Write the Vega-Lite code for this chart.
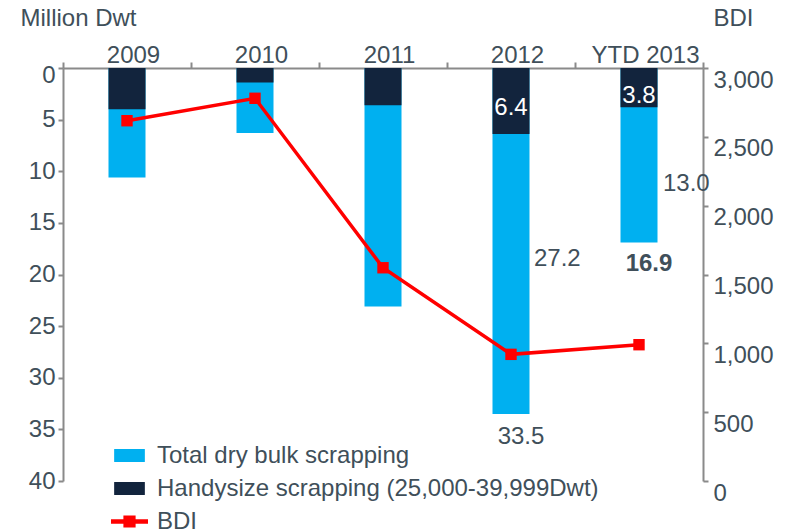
{
  "$schema": "https://vega.github.io/schema/vega-lite/v6.json",
  "width": 640,
  "height": 413,
  "autosize": {"type": "none"},
  "padding": {"left": 63, "top": 68, "right": 87, "bottom": 51},
  "background": "white",
  "config": {"view": {"stroke": null}, "font": "Liberation Sans"},
  "data": {
    "values": [
      {"year": "2009", "total": 10.6, "handysize": 4.0, "other": null, "bdi": 2617},
      {"year": "2010", "total": 6.3, "handysize": 1.4, "other": null, "bdi": 2780},
      {"year": "2011", "total": 23.1, "handysize": 3.6, "other": null, "bdi": 1549},
      {"year": "2012", "total": 33.5, "handysize": 6.4, "other": 27.2, "bdi": 920},
      {"year": "YTD 2013", "total": 16.9, "handysize": 3.8, "other": 13.0, "bdi": 990}
    ]
  },
  "encoding": {
    "x": {
      "field": "year",
      "type": "nominal",
      "sort": null,
      "scale": {"paddingInner": 0, "paddingOuter": 0},
      "axis": {
        "orient": "top",
        "title": null,
        "labelAngle": 0,
        "labelFontSize": 24,
        "labelColor": "#404f5a",
        "labelBaseline": "alphabetic",
        "labelPadding": 0,
        "labelOffset": 6,
        "domainColor": "#8a8a8a",
        "domainWidth": 2,
        "tickColor": "#8a8a8a",
        "tickWidth": 2,
        "tickSize": 6,
        "tickBand": "extent"
      }
    }
  },
  "layer": [
    {
      "layer": [
        {
          "mark": {"type": "bar", "width": 37, "color": "#00b0f0"},
          "encoding": {
            "y": {
              "field": "total",
              "type": "quantitative",
              "scale": {"domain": [0, 40], "reverse": true, "nice": false},
              "axis": {
                "orient": "left",
                "values": [0, 5, 10, 15, 20, 25, 30, 35, 40],
                "grid": false,
                "title": "Million Dwt",
                "titleAngle": 0,
                "titleAlign": "left",
                "titleBaseline": "alphabetic",
                "titleX": -43,
                "titleY": -43,
                "titleFontSize": 24,
                "titleFontWeight": "normal",
                "titleColor": "#404f5a",
                "labelFontSize": 24,
                "labelColor": "#404f5a",
                "labelPadding": 3,
                "labelOffset": {"condition": {"test": "datum.value === 0", "value": 7}, "value": 0},
                "domainColor": "#8a8a8a",
                "domainWidth": 2,
                "tickColor": "#8a8a8a",
                "tickWidth": 2,
                "tickSize": 5
              }
            },
            "color": {
              "datum": "Total dry bulk scrapping",
              "type": "nominal",
              "scale": {
                "domain": ["Total dry bulk scrapping", "Handysize scrapping (25,000-39,999Dwt)", "BDI"],
                "range": ["#00b0f0", "#12243d", "#ff0000"]
              },
              "legend": {
                "orient": "none",
                "legendX": 48,
                "legendY": 369,
                "title": null,
                "labelFontSize": 24,
                "labelColor": "#404f5a",
                "labelLimit": 0,
                "labelOffset": 9,
                "rowPadding": 2,
                "symbolSize": 1369,
                "symbolStrokeWidth": 0,
                "symbolType": "square",
                "encode": {
                  "symbols": {
                    "update": {
                      "shape": {"signal": "datum.label === 'BDI' ? 'M-1,-0.12H-0.33V-0.33H0.33V-0.12H1V0.12H0.33V0.33H-0.33V0.12H-1Z' : 'M-0.83,-0.35H0.83V0.35H-0.83Z'"}
                    }
                  }
                }
              }
            }
          }
        },
        {
          "mark": {"type": "bar", "width": 37, "color": "#12243d"},
          "encoding": {
            "y": {"field": "handysize", "type": "quantitative"},
            "color": {"datum": "Handysize scrapping (25,000-39,999Dwt)", "type": "nominal"}
          }
        },
        {
          "transform": [{"filter": "datum.year === '2012'"}],
          "mark": {"type": "text", "color": "white", "fontSize": 24, "baseline": "middle", "dy": -26},
          "encoding": {
            "y": {"field": "handysize", "type": "quantitative"},
            "text": {"field": "handysize", "type": "quantitative", "format": ".1f"}
          }
        },
        {
          "transform": [{"filter": "datum.year === 'YTD 2013'"}],
          "mark": {"type": "text", "color": "white", "fontSize": 24, "baseline": "middle", "dy": -11},
          "encoding": {
            "y": {"field": "handysize", "type": "quantitative"},
            "text": {"field": "handysize", "type": "quantitative", "format": ".1f"}
          }
        },
        {
          "transform": [{"filter": "datum.year === '2012'"}],
          "mark": {"type": "text", "color": "#404f5a", "fontSize": 24, "baseline": "middle", "dy": 23, "dx": 10},
          "encoding": {
            "y": {"field": "total", "type": "quantitative"},
            "text": {"field": "total", "type": "quantitative", "format": ".1f"}
          }
        },
        {
          "transform": [{"filter": "datum.year === 'YTD 2013'"}],
          "mark": {"type": "text", "color": "#404f5a", "fontSize": 24, "fontWeight": "bold", "baseline": "middle", "dy": 22, "dx": 10},
          "encoding": {
            "y": {"field": "total", "type": "quantitative"},
            "text": {"field": "total", "type": "quantitative", "format": ".1f"}
          }
        },
        {
          "transform": [{"filter": "datum.year === '2012'"}],
          "mark": {"type": "text", "color": "#404f5a", "fontSize": 24, "baseline": "middle", "align": "left", "dy": -90, "dx": 23},
          "encoding": {
            "y": {"field": "other", "type": "quantitative"},
            "text": {"field": "other", "type": "quantitative", "format": ".1f"}
          }
        },
        {
          "transform": [{"filter": "datum.year === 'YTD 2013'"}],
          "mark": {"type": "text", "color": "#404f5a", "fontSize": 24, "baseline": "middle", "align": "left", "dy": -18, "dx": 24},
          "encoding": {
            "y": {"field": "other", "type": "quantitative"},
            "text": {"field": "other", "type": "quantitative", "format": ".1f"}
          }
        }
      ]
    },
    {
      "layer": [
        {
          "mark": {"type": "line", "color": "#ff0000", "strokeWidth": 3.5},
          "encoding": {
            "y": {
              "field": "bdi",
              "type": "quantitative",
              "scale": {"domain": [0, 3000], "nice": false},
              "axis": {
                "orient": "right",
                "values": [0, 500, 1000, 1500, 2000, 2500, 3000],
                "format": ",.0f",
                "grid": false,
                "title": "BDI",
                "titleAngle": 0,
                "titleAlign": "left",
                "titleBaseline": "alphabetic",
                "titleX": 10,
                "titleY": -43,
                "titleFontSize": 24,
                "titleFontWeight": "normal",
                "titleColor": "#404f5a",
                "labelFontSize": 24,
                "labelColor": "#404f5a",
                "labelPadding": 5,
                "labelOffset": 12,
                "domainColor": "#8a8a8a",
                "domainWidth": 2,
                "tickColor": "#8a8a8a",
                "tickWidth": 2,
                "tickSize": 5
              }
            }
          }
        },
        {
          "mark": {"type": "point", "shape": "square", "filled": true, "color": "#ff0000", "size": 130, "opacity": 1},
          "encoding": {
            "y": {"field": "bdi", "type": "quantitative"}
          }
        }
      ]
    }
  ],
  "resolve": {"scale": {"y": "independent"}, "axis": {"y": "independent"}}
}
